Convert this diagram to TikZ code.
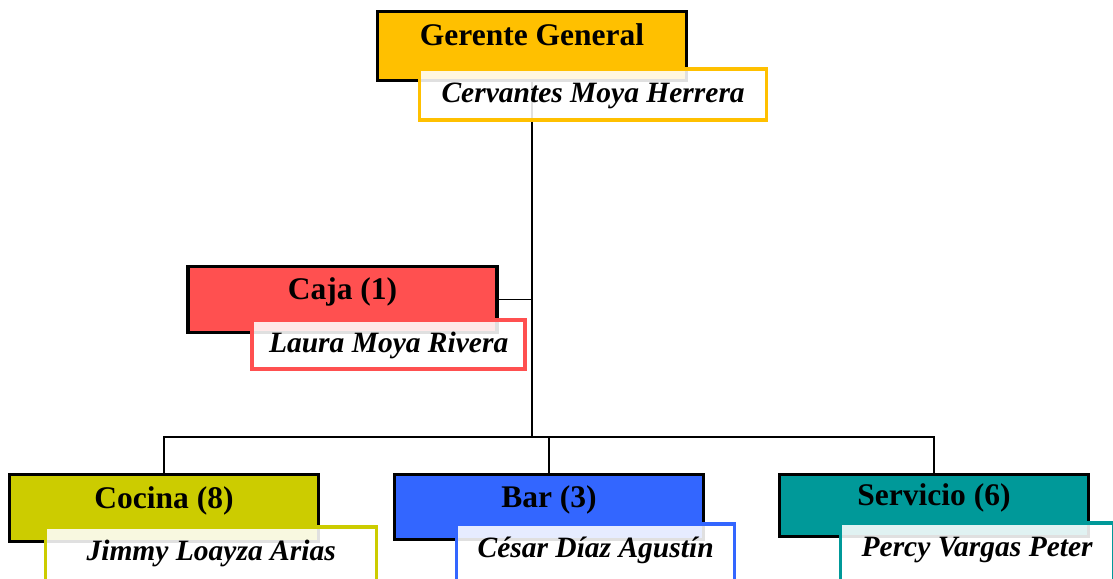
\documentclass[tikz,border=0pt]{standalone}
\usepackage{fontspec}
\setmainfont{Liberation Serif}
\usetikzlibrary{positioning, calc}
\definecolor{GoldYellow}{HTML}{FFC000}
\definecolor{SoftRed}{HTML}{FF5050}
\definecolor{OliveYellow}{HTML}{CCCC00}
\definecolor{BrightBlue}{HTML}{3366FF}
\definecolor{TealGreen}{HTML}{009999}

\begin{document}
\begin{tikzpicture}[x=1pt, y=-1pt,
    puesto/.style={draw=black, line width=3.2pt, inner sep=0pt, minimum width=309pt,
        text height=1pt, text depth=1pt, font=\fontsize{31.5}{36}\selectfont\bfseries},
    nombre/.style={draw=#1, line width=3.5pt, fill=white, fill opacity=0.88, text opacity=1,
        inner sep=0pt, anchor=north west, minimum height=51pt, text height=17pt, text depth=0pt,
        font=\fontsize{29.5}{34}\selectfont\bfseries\itshape},
    abajo/.style={minimum height=60pt, text depth=9pt},
    linea/.style={line width=1.3pt}]

\useasboundingbox (0,0) rectangle (1113,578);

% cargos
\node[puesto, fill=GoldYellow, minimum height=69pt] (gerente) at (532,46) {Gerente General};
\node[puesto, fill=SoftRed, minimum height=66pt] (caja) at (342.5,299.5) {Caja (1)};
\node[puesto, fill=OliveYellow, minimum height=67pt] (cocina) at (164,508) {Cocina (8)};
\node[puesto, fill=BrightBlue, minimum height=65pt] (bar) at (549,507) {Bar (3)};
\node[puesto, fill=TealGreen, minimum height=62pt] (servicio) at (934,505.5) {Servicio (6)};

% lineas de mando
\coordinate (nivel) at (0,437);
\coordinate (bus) at (gerente.south |- nivel);
\draw[linea] (gerente.south) -- (bus);
\draw[linea] (caja.east) -- (caja.east -| bus);
\draw[linea] (cocina.north) |- (bus) -| (servicio.north);
\draw[linea] (bar.north) -- (bar.north |- bus);

% responsables
\node[nombre=GoldYellow, minimum width=347pt] (cervantes) at ([shift={(42,-15)}]gerente.south west) {Cervantes Moya Herrera};
\node[nombre=SoftRed, minimum width=273pt, minimum height=49pt] (laura) at ([shift={(64,-16)}]caja.south west) {Laura Moya Rivera};
\node[nombre=OliveYellow, abajo, minimum width=331pt] (jimmy) at ([shift={(36,-18)}]cocina.south west) {Jimmy Loayza Arias};
\node[nombre=BrightBlue, abajo, minimum width=278pt] (cesar) at ([shift={(62,-19)}]bar.south west) {César Díaz Agustín};
\node[nombre=TealGreen, abajo, minimum width=273pt] (percy) at ([shift={(61,-17)}]servicio.south west) {Percy Vargas Peter};

\end{tikzpicture}
\end{document}
